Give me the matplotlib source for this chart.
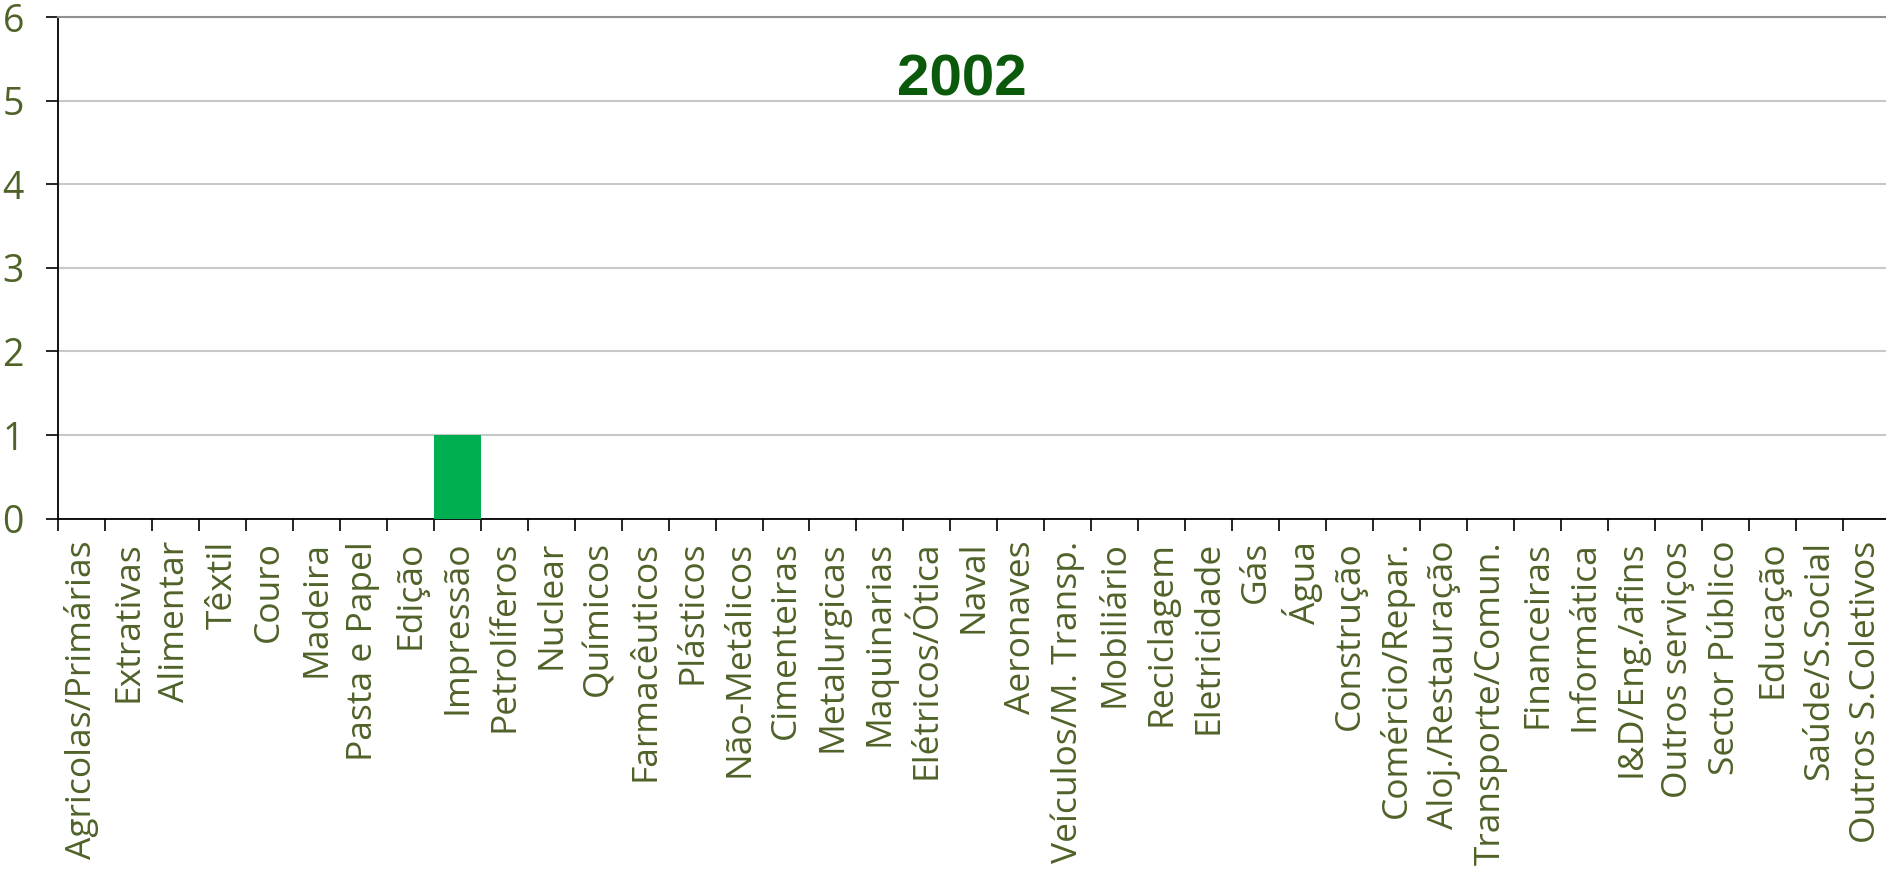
import matplotlib
matplotlib.use("Agg")
import matplotlib.pyplot as plt
import numpy as np

categories = ["Agricolas/Primárias", "Extrativas", "Alimentar", "Têxtil", "Couro",
              "Madeira", "Pasta e Papel", "Edição", "Impressão", "Petrolíferos",
              "Nuclear", "Químicos", "Farmacêuticos", "Plásticos", "Não-Metálicos",
              "Cimenteiras", "Metalurgicas", "Maquinarias", "Elétricos/Ótica", "Naval",
              "Aeronaves", "Veículos/M. Transp.", "Mobiliário", "Reciclagem", "Eletricidade",
              "Gás", "Água", "Construção", "Comércio/Repar.", "Aloj./Restauração",
              "Transporte/Comun.", "Financeiras", "Informática", "I&D/Eng./afins",
              "Outros serviços", "Sector Público", "Educação", "Saúde/S.Social",
              "Outros S.Coletivos"]
values = [0, 0, 0, 0, 0, 0, 0, 0, 1, 0,
          0, 0, 0, 0, 0, 0, 0, 0, 0, 0,
          0, 0, 0, 0, 0, 0, 0, 0, 0, 0,
          0, 0, 0, 0, 0, 0, 0, 0, 0]
yticks = [0, 1, 2, 3, 4, 5, 6]
title = "2002"

label_color = "#4F6228"
plt.rcParams['font.family'] = ['Open Sans', 'DejaVu Sans']

fig = plt.figure(figsize=(18.86, 8.72), dpi=100)
ax = fig.add_axes([58 / 1886, 1 - 518.6 / 872, 1 - 58 / 1886 + 0.002, (518.6 - 17) / 872])

x = np.arange(len(categories))
ax.bar(x, values, width=1.0, color="#00B050", zorder=3)

ax.set_xlim(-0.5, len(categories) - 0.5)
ax.set_ylim(0, 6)
ax.set_yticks(yticks)
ax.set_yticklabels([str(v) for v in yticks])
ax.yaxis.grid(True, color="#C8C8C8", linewidth=1.5, zorder=0)
ax.set_axisbelow(True)

ax.set_xticks(x)
ax.set_xticklabels(categories, rotation=90, ha="center", va="top")
ax.set_xticks(np.arange(len(categories) + 1) - 0.5, minor=True)
ax.tick_params(axis="x", which="major", length=0, pad=16, labelsize=25.5, labelcolor=label_color)
ax.tick_params(axis="x", which="minor", length=8.5, width=1.2, direction="out", color="black")
ax.tick_params(axis="y", length=8.5, width=1.2, direction="out", pad=16, labelsize=27,
               labelcolor=label_color, color="black")

ax.spines["right"].set_visible(False)
ax.spines["top"].set_color("#909090")
ax.spines["top"].set_linewidth(1.5)
ax.spines["left"].set_linewidth(1.3)
ax.spines["bottom"].set_linewidth(1.3)

ax.text(962 / 1886, 1 - 80 / 872, title, transform=fig.transFigure, ha="center", va="center",
        fontsize=42, fontweight="bold", color="#0B5A0B", family="Liberation Sans")

fig.savefig("out.png", dpi=100)
